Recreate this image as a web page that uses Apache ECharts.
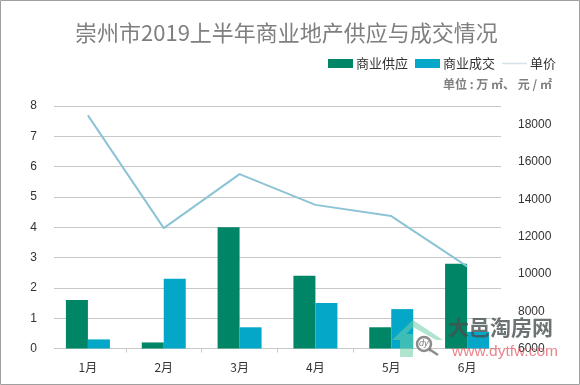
<!DOCTYPE html>
<html><head><meta charset="utf-8">
<style>html,body{margin:0;padding:0;background:#fff}#c{width:580px;height:385px}</style>
<script src="https://cdn.jsdelivr.net/npm/echarts@6/dist/echarts.min.js"></script>
</head><body><div id="c"></div>
<script>
const categories = ['1月','2月','3月','4月','5月','6月'];
const supply = [1.6,0.2,4,2.4,0.7,2.8];
const deal = [0.3,2.3,0.7,1.5,1.3,0.55];
const price = [18500,12450,15350,13700,13100,10400];
const FONT = '"Noto Sans CJK SC","Microsoft YaHei",sans-serif';
const chart = echarts.init(document.getElementById('c'),null,{renderer:'canvas'});
chart.setOption({
  animation:false,
  backgroundColor:'#fff',
  title:{text:'崇州市2019上半年商业地产供应与成交情况',left:70,top:17,
    textStyle:{color:'#7f7f7f',fontSize:22,fontWeight:'normal',fontFamily:FONT}},
  legend:{top:52,right:19,itemGap:7,itemWidth:25,itemHeight:9,
    textStyle:{color:'#333',fontSize:13,fontFamily:FONT,padding:[0,0,0,-2]},
    data:[{name:'商业供应',icon:'rect'},{name:'商业成交',icon:'rect'},{name:'单价',icon:'path://M0 0H100V6H0Z'}]},
  grid:{left:50,right:75,top:106,bottom:36.5,containLabel:false},
  xAxis:{type:'category',data:categories,
    axisLine:{lineStyle:{color:'#c8c8c8'}},
    axisTick:{show:true,length:4,lineStyle:{color:'#c8c8c8'}},
    axisLabel:{color:'#333',fontSize:12,margin:13,fontFamily:FONT}},
  yAxis:[
    {type:'value',min:0,max:8,interval:1,position:'left',
     axisLine:{show:false},axisTick:{show:false},
     axisLabel:{color:'#333',fontSize:12,margin:13,fontFamily:'"Liberation Sans",sans-serif'},
     splitLine:{lineStyle:{color:'#c8c8c8'}}},
    {type:'value',min:6000,max:19000,interval:2000,position:'right',
     axisLine:{show:false},axisTick:{show:false},splitLine:{show:false},
     axisLabel:{color:'#333',fontSize:12,margin:13,showMaxLabel:false,formatter:v=>String(v),fontFamily:'"Liberation Sans",sans-serif'}}
  ],
  series:[
    {name:'商业供应',type:'bar',data:supply,barWidth:22,barGap:0,itemStyle:{color:'#008566'}},
    {name:'商业成交',type:'bar',data:deal,barWidth:22,barGap:0,itemStyle:{color:'#05a7c9'}},
    {name:'单价',type:'line',yAxisIndex:1,data:price,symbol:'none',z:3,
     lineStyle:{color:'#8cc4d6',width:2},itemStyle:{color:'#d5e3e8'}}
  ],
  graphic:[
    {type:'rect',z:90,shape:{x:49,y:100,width:5,height:254},style:{fill:'#fff'}},
    {type:'rect',z:90,shape:{x:501,y:100,width:5,height:254},style:{fill:'#fff'}},
    {type:'rect',z:100,shape:{x:0.5,y:0.5,width:579,height:384},style:{fill:'none',stroke:'#a0a0a0',lineWidth:1}},
    {type:'text',z:100,left:443,top:78,style:{text:'单位 : 万 ㎡、 元 / ㎡',fill:'#7f7f7f',font:'bold 12px '+FONT}},
    {type:'polygon',z:101,shape:{points:[[400,357],[400,340],[392,340],[413,320],[443,340],[436,340],[413,327],[406,334],[413,334],[413,357]]},style:{fill:'rgba(110,205,165,0.55)'}},
    {type:'circle',z:101,shape:{cx:424,cy:344,r:7},style:{fill:'rgba(255,255,255,0.8)',stroke:'rgba(120,120,120,0.85)',lineWidth:2.5}},
    {type:'line',z:101,shape:{x1:429,y1:349,x2:438,y2:355},style:{stroke:'rgba(120,120,120,0.85)',lineWidth:2.5}},
    {type:'text',z:102,left:419,top:339,style:{text:'dy',fill:'rgba(110,110,110,0.9)',font:'italic 9px "Liberation Sans",sans-serif'}},
    {type:'text',z:102,left:448,top:317,style:{text:'大邑淘房网',fill:'rgba(70,80,80,0.8)',font:'bold 21px '+FONT}},
    {type:'text',z:102,left:452,top:344,style:{text:'www.dytfw.com',fill:'rgba(225,90,100,0.75)',font:'15.5px "Liberation Sans",sans-serif'}}
  ]
});
</script></body></html>
